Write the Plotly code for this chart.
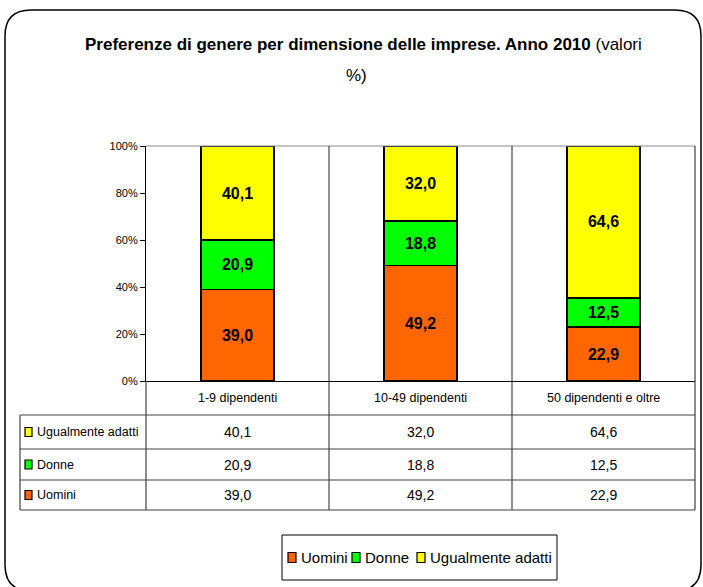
import plotly.graph_objects as go

# Dati: preferenze di genere per dimensione d'impresa (valori %)
categorie = ["1-9 dipendenti", "10-49 dipendenti", "50 dipendenti e oltre"]
serie_nomi = ["Uomini", "Donne", "Ugualmente adatti"]
uomini = [39.0, 49.2, 22.9]
donne = [20.9, 18.8, 12.5]
ugualmente = [40.1, 32.0, 64.6]
colori = ["#FF6600", "#00FF00", "#FFFF00"]
y_tick_vals = [0, 20, 40, 60, 80, 100]
y_tick_text = ["0%", "20%", "40%", "60%", "80%", "100%"]

W, H = 703, 587
FONT = "Liberation Sans, Arial, sans-serif"


def px(x):
    return x / W


def py(y):
    return 1 - y / H


def fmt(v):
    return f"{v:.1f}".replace(".", ",")


serie_valori = [uomini, donne, ugualmente]
xi = list(range(len(categorie)))

fig = go.Figure()
for nome, vals, col in zip(serie_nomi, serie_valori, colori):
    fig.add_trace(go.Bar(
        x=xi, y=vals, name=nome, width=0.4,
        marker=dict(color=col, line=dict(color="black", width=1.5)),
        text=[fmt(v) for v in vals], textposition="inside",
        insidetextanchor="middle", textangle=0, constraintext="none",
        textfont=dict(family=FONT, size=16, color="black", weight="bold"),
        hoverinfo="skip", showlegend=False,
    ))

# Area del grafico (coordinate in pixel)
PL, PR, PT, PB = 146, 695, 146, 381
# Tabella dati sotto il grafico
T_LEFT, T_TOP, T_ROWS = 20, 415, [415, 449, 480, 510]

shapes = []
line_col = "#404040"
# cornice arrotondata esterna
L, T, R, B, rad = 5, 10, 701, 591, 26
path = (f"M {px(L)},{py(T + rad)} "
        f"Q {px(L)},{py(T)} {px(L + rad)},{py(T)} "
        f"L {px(R - rad)},{py(T)} "
        f"Q {px(R)},{py(T)} {px(R)},{py(T + rad)} "
        f"L {px(R)},{py(B - rad)} "
        f"Q {px(R)},{py(B)} {px(R - rad)},{py(B)} "
        f"L {px(L + rad)},{py(B)} "
        f"Q {px(L)},{py(B)} {px(L)},{py(B - rad)} Z")
shapes.append(dict(type="path", path=path, xref="paper", yref="paper",
                   line=dict(color="black", width=1.5), layer="below"))
# bordo superiore e destro dell'area del grafico
shapes.append(dict(type="line", xref="paper", yref="paper", x0=px(PL), x1=px(PR),
                   y0=py(PT), y1=py(PT), line=dict(color="#8c8c8c", width=1.2)))
shapes.append(dict(type="line", xref="paper", yref="paper", x0=px(PR), x1=px(PR),
                   y0=py(PT), y1=py(T_ROWS[-1]), line=dict(color=line_col, width=1.2)))
# separatori tra categorie (proseguono nella tabella)
for i in range(len(categorie) - 1):
    shapes.append(dict(type="line", xref="x", yref="paper", x0=i + 0.5, x1=i + 0.5,
                       y0=py(PT), y1=py(T_ROWS[-1]), line=dict(color="#222", width=1)))
# linee verticali della tabella
shapes.append(dict(type="line", xref="paper", yref="paper", x0=px(PL), x1=px(PL),
                   y0=py(PB), y1=py(T_ROWS[-1]), line=dict(color=line_col, width=1.2)))
shapes.append(dict(type="line", xref="paper", yref="paper", x0=px(T_LEFT), x1=px(T_LEFT),
                   y0=py(T_TOP), y1=py(T_ROWS[-1]), line=dict(color=line_col, width=1.2)))
# linee orizzontali della tabella
for yr in T_ROWS:
    shapes.append(dict(type="line", xref="paper", yref="paper", x0=px(T_LEFT), x1=px(PR),
                       y0=py(yr), y1=py(yr), line=dict(color=line_col, width=1.2)))

annotations = []
# titolo su due righe
annotations.append(dict(
    text="<b>Preferenze di genere per dimensione delle imprese. Anno 2010</b> (valori",
    xref="paper", yref="paper", x=px(363), y=py(44), xanchor="center", yanchor="middle",
    showarrow=False, font=dict(family=FONT, size=17, color="black"),
))
annotations.append(dict(
    text="%)", xref="paper", yref="paper", x=px(357), y=py(75), xanchor="center",
    yanchor="middle", showarrow=False, font=dict(family=FONT, size=17, color="black"),
))
# intestazioni delle colonne
for i, c in enumerate(categorie):
    annotations.append(dict(text=c, xref="x", yref="paper", x=i, y=py(398),
                            xanchor="center", yanchor="middle", showarrow=False,
                            font=dict(family=FONT, size=12.5, color="black")))
# righe della tabella (ordine: serie superiore in alto)
righe = list(zip(serie_nomi, serie_valori, colori))[::-1]
for r, (nome, vals, col) in enumerate(righe):
    yc = (T_ROWS[r] + T_ROWS[r + 1]) / 2
    shapes.append(dict(type="rect", xref="paper", yref="paper",
                       x0=px(25), x1=px(32), y0=py(yc - 4.5), y1=py(yc + 4.5),
                       fillcolor=col, line=dict(color="black", width=1.2)))
    annotations.append(dict(text=nome, xref="paper", yref="paper", x=px(35), y=py(yc),
                            xanchor="left", yanchor="middle", showarrow=False,
                            font=dict(family=FONT, size=12.5, color="black")))
    for i, v in enumerate(vals):
        annotations.append(dict(text=fmt(v), xref="x", yref="paper", x=i, y=py(yc),
                                xanchor="center", yanchor="middle", showarrow=False,
                                font=dict(family=FONT, size=14, color="black")))

# legenda in basso, riquadrata
LG_L, LG_R, LG_T, LG_B = 282, 557, 535, 580
shapes.append(dict(type="rect", xref="paper", yref="paper",
                   x0=px(LG_L), x1=px(LG_R), y0=py(LG_T), y1=py(LG_B),
                   fillcolor="white", line=dict(color="black", width=1)))
lg_yc = (LG_T + LG_B) / 2
x_cur = 288
for nome, col in zip(serie_nomi, colori):
    shapes.append(dict(type="rect", xref="paper", yref="paper",
                       x0=px(x_cur), x1=px(x_cur + 8), y0=py(lg_yc - 5), y1=py(lg_yc + 5),
                       fillcolor=col, line=dict(color="black", width=1.2)))
    annotations.append(dict(text=nome, xref="paper", yref="paper", x=px(x_cur + 11),
                            y=py(lg_yc), xanchor="left", yanchor="middle", showarrow=False,
                            font=dict(family=FONT, size=15, color="black")))
    x_cur += {"Uomini": 64, "Donne": 65}.get(nome, 0)

fig.update_layout(
    width=W, height=H,
    margin=dict(l=0, r=0, t=0, b=0, autoexpand=False),
    paper_bgcolor="white", plot_bgcolor="white",
    barmode="stack", bargap=0.6,
    showlegend=False,
    xaxis=dict(domain=[px(PL), px(PR)], range=[-0.5, 2.5], showticklabels=False,
               showgrid=False, zeroline=False, showline=True, linecolor="black",
               linewidth=1.2, fixedrange=True),
    yaxis=dict(domain=[py(PB), py(PT)], range=[0, 100], tickvals=y_tick_vals,
               ticktext=y_tick_text, ticks="outside", ticklen=5, tickcolor="black",
               showgrid=False, zeroline=False, showline=True, linecolor="black",
               linewidth=1.2, tickfont=dict(family=FONT, size=11, color="black"),
               fixedrange=True),
    shapes=shapes, annotations=annotations,
)

fig.write_html("out.html")
